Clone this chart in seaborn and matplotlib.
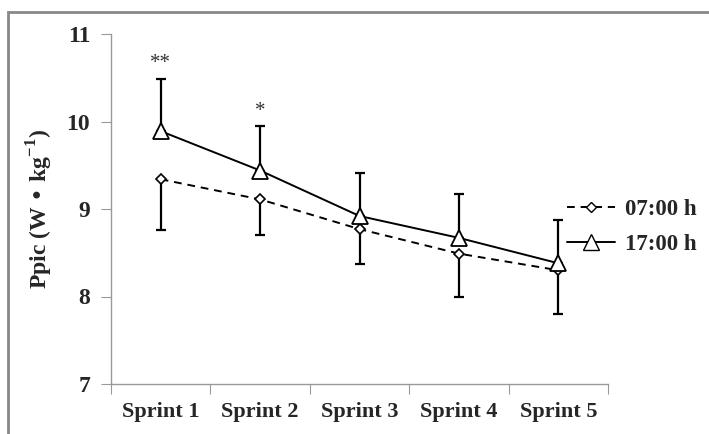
import numpy as np
import pandas as pd
import matplotlib
matplotlib.use("Agg")
import matplotlib.pyplot as plt
import seaborn as sns
from matplotlib.patches import Rectangle
from matplotlib.lines import Line2D

categories = ["Sprint 1", "Sprint 2", "Sprint 3", "Sprint 4", "Sprint 5"]
mean_0700 = [9.34, 9.11, 8.77, 8.49, 8.30]
sd_0700 = [0.58, 0.41, 0.40, 0.49, 0.50]
mean_1700 = [9.89, 9.44, 8.92, 8.67, 8.38]
sd_1700 = [0.60, 0.51, 0.49, 0.50, 0.50]
signif = ["**", "*", "", "", ""]
series_names = ["07:00 h", "17:00 h"]

sns.set_style("white")
plt.rcParams["font.family"] = ["Liberation Serif", "DejaVu Serif"]

pos = np.arange(len(categories)) + 0.5
df = pd.DataFrame({
    "x": np.concatenate([pos, pos]),
    "y": mean_0700 + mean_1700,
    "series": [series_names[0]] * 5 + [series_names[1]] * 5,
})

fig = plt.figure(figsize=(7.09, 4.34), dpi=100)
ax = fig.add_axes([111 / 709, 1 - 384 / 434, (608 - 111) / 709, (384 - 34) / 434])

# error bars (07:00 lower only, 17:00 upper only)
ax.errorbar(pos, mean_0700, yerr=[sd_0700, [0] * 5], fmt="none", ecolor="black",
            elinewidth=1.6, capsize=3.5, capthick=1.6, zorder=2)
ax.errorbar(pos, mean_1700, yerr=[[0] * 5, sd_1700], fmt="none", ecolor="black",
            elinewidth=1.6, capsize=3.5, capthick=1.6, zorder=2)

sns.lineplot(data=df, x="x", y="y", hue="series", style="series",
             palette={series_names[0]: "black", series_names[1]: "black"},
             dashes={series_names[0]: (4, 3), series_names[1]: ""},
             markers={series_names[0]: "D", series_names[1]: "^"},
             markersize=1, linewidth=1.4, ax=ax, legend=False, zorder=3)

lines = ax.get_lines()
l07 = [l for l in lines if l.get_marker() == "D"][0]
l17 = [l for l in lines if l.get_marker() == "^"][0]
l07.set_markersize(5.5); l07.set_markerfacecolor("white"); l07.set_markeredgecolor("black"); l07.set_markeredgewidth(1.2)
l17.set_markersize(11.5); l17.set_markerfacecolor("white"); l17.set_markeredgecolor("black"); l17.set_markeredgewidth(1.3)

for x, m, s, t in zip(pos, mean_1700, sd_1700, signif):
    if t:
        ax.text(x, m + s + 0.17, t, ha="center", va="center", fontsize=15, color="#333333")

ax.set_xlim(0, 5)
ax.set_ylim(7, 11)
ax.set_yticks([7, 8, 9, 10, 11])
ax.set_yticklabels(["7", "8", "9", "10", "11"], fontweight="bold", fontsize=17)
ax.set_xticks(np.arange(0, 6))
ax.set_xticklabels([])
ax.set_xticks(pos, minor=True)
ax.set_xticklabels(categories, minor=True, fontweight="bold", fontsize=16)
ax.tick_params(axis="x", which="minor", length=0, pad=13)
ax.tick_params(axis="x", which="major", length=7, color="#999999", direction="out", bottom=True)
ax.tick_params(axis="y", length=7, color="#999999", direction="out", left=True, pad=8)
ax.set_xlabel("")
ax.set_ylabel("Ppic (W • kg$^{\\mathregular{-1}}$)", fontweight="bold", fontsize=17, labelpad=8)

for side in ["top", "right"]:
    ax.spines[side].set_visible(False)
for side in ["left", "bottom"]:
    ax.spines[side].set_color("#999999")
    ax.spines[side].set_linewidth(1.0)

h07 = Line2D([], [], color="black", linestyle=(0, (4, 3)), linewidth=1.4, marker="D",
             markersize=5.5, markerfacecolor="white", markeredgecolor="black")
h17 = Line2D([], [], color="black", linestyle="-", linewidth=1.4, marker="^",
             markersize=11.5, markerfacecolor="white", markeredgecolor="black")
leg = fig.legend([h07, h17], series_names, loc="center left",
                 bbox_to_anchor=(567 / 709, 1 - 227 / 434), frameon=False,
                 prop={"weight": "bold", "size": 16.5}, handlelength=2.1,
                 handletextpad=0.45, labelspacing=0.65, borderpad=0, borderaxespad=0)

fig.patches.append(Rectangle((8 / 709, -0.05), 1.2, 1 - 12 / 434 + 0.05,
                             transform=fig.transFigure, fill=False,
                             edgecolor="#888888", linewidth=2.0))

fig.savefig("out.png", dpi=100)
